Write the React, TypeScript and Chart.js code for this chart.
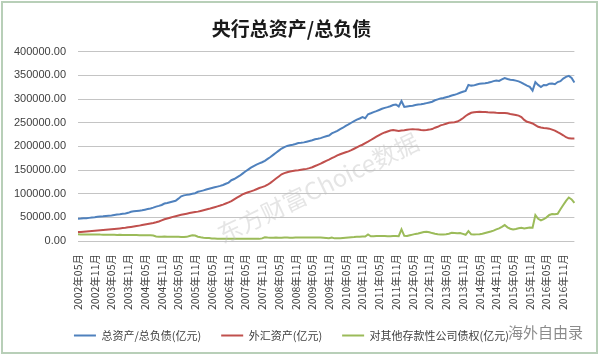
import React, { useEffect, useRef } from "react";
import { Chart, registerables } from "chart.js";

Chart.register(...registerables);

// Monthly, 2002-05 .. 2017-03 (亿元)
const startYear = 2002;
const startMonth = 5;

const totalAssets: number[] = [
  // 2002 (May-Dec)
  47000, 47500, 48200, 48000, 48900, 49500, 50200, 51100,
  // 2003
  51800, 52300, 53000, 53600, 54100, 55000, 55800, 56500, 57400, 58300, 59600, 61900,
  // 2004
  62800, 63500, 64200, 65000, 66200, 67500, 68800, 70500, 72600, 74300, 76200, 79200,
  // 2005
  80500, 82000, 83500, 85000, 89500, 94500, 96500, 97500, 98500, 99800, 101000, 104000,
  // 2006
  105500, 107000, 109000, 110500, 112000, 113500, 115000, 116500, 118500, 121000, 123500, 128500,
  // 2007
  131000, 134500, 138000, 142500, 147000, 151000, 155000, 158500, 161500, 164000, 166500, 169500,
  // 2008
  173500, 177500, 182000, 186500, 191000, 195500, 198500, 201000, 202500, 203500, 205000, 207000,
  // 2009
  207500, 208500, 210000, 211500, 213000, 215000, 216000, 217500, 219500, 221500, 223000, 227500,
  // 2010
  230000, 233000, 236500, 239500, 243500, 246500, 250000, 253500, 256500, 259000, 262000, 259500,
  // 2011
  268000, 270000, 272500, 274500, 277000, 279500, 281500, 283000, 285000, 287500, 288500, 284500,
  // 2012
  296000, 283500, 284500, 285500, 286000, 287500, 288500, 289000, 290000, 291500, 293000, 294500,
  // 2013
  297500, 299500, 301500, 302500, 304000, 305500, 307500, 309000, 311000, 313500, 315500, 317500,
  // 2014
  330000, 328500, 329000, 331000, 332500, 333000, 333500, 334500, 336000, 338000, 339500, 338500,
  // 2015
  341500, 344500, 342500, 341000, 340500, 339000, 337500, 335000, 331500, 328500, 326000, 318000,
  // 2016
  336000, 330000, 325500, 330000, 329500, 332500, 333000, 331500, 336000, 338000, 343500, 347000,
  // 2017 (Jan-Mar)
  349000, 344500, 335000,
];

const fxAssets: number[] = [
  18800, 19200, 19700, 20100, 20500, 21000, 21500, 22100,
  22600, 23100, 23700, 24200, 24800, 25400, 26000, 26600, 27300, 28000, 28900, 29800,
  30600, 31500, 32500, 33600, 34800, 35900, 37000, 38200, 39600, 41200, 43500, 45900,
  47500, 49200, 51000, 52500, 54000, 55300, 56600, 57800, 59000, 60200, 61300, 62100,
  63500, 65000, 66500, 68000, 69800, 71500, 73200, 75000, 77000, 79200, 81500, 84400,
  88000, 91500, 95000, 98500, 101000, 103000, 105000, 107000, 109500, 112000, 114000, 116000,
  119000, 123000, 127500, 132000, 136500, 141000, 143500, 145500, 147000, 148000, 149000, 149600,
  150500, 151500, 152500, 154000, 156000, 158500, 161000, 163500, 166500, 169500, 172000, 175200,
  178000, 181000, 183500, 185500, 187500, 189500, 192000, 195000, 198000, 201000, 203500, 206800,
  210000, 213500, 217000, 220500, 224000, 227000, 229500, 231500, 233500, 234500, 233500, 232400,
  233500, 234000, 235000, 236000, 236500, 236000, 235500, 234500, 234000, 234500, 235500, 236700,
  239500, 241500, 244500, 246000, 248000, 250000, 250500, 251000, 252500, 255500, 259500, 264300,
  268000, 271000, 272000, 272500, 273000, 272800, 272500, 272000, 271800, 271500, 271000, 270700,
  270800, 270500, 270000, 268500, 267500, 266500, 265000, 262000, 256000, 252000, 250500, 248500,
  245000, 241500, 240000, 239000, 238500, 237500, 235500, 233500, 230000, 227000, 223500, 219400,
  217000, 216500, 216700,
];

const claimsOnBanks: number[] = [
  14200, 14000, 13800, 13900, 13700, 13600, 13800, 14000,
  13600, 13400, 13300, 13200, 13100, 13000, 12900, 13000, 12800, 12700, 12600, 12800,
  12600, 12500, 12400, 12300, 12200, 12100, 12000, 11500, 9500, 9200, 9100, 9300,
  9100, 9000, 8900, 8800, 8800, 8700, 8700, 8800, 10500, 12000, 11500, 9000,
  7800, 7000, 6500, 6200, 5500, 5200, 5000, 4900, 4800, 4900, 4800, 4900,
  4800, 4700, 4600, 4600, 4700, 4500, 4600, 4700, 4600, 4500, 5500, 7800,
  7300, 7100, 7000, 7200, 7100, 7000, 7200, 7300, 7100, 7000, 7200, 7500,
  7400, 7300, 7200, 7400, 7500, 7600, 7500, 7300, 6800, 6300, 5800, 7100,
  5600, 5700, 6000, 6500, 7000, 7500, 8000, 8300, 8800, 9200, 9600, 9500,
  14000, 10000, 10300, 10500, 10600, 10500, 10400, 10300, 10200, 10500, 10800, 10200,
  24600, 11000, 10500, 12000, 13500, 15000, 16000, 17500, 19000, 19600, 18500, 16700,
  15500, 14500, 14000, 13800, 14500, 15500, 17500, 17000, 16500, 17000, 15000, 13100,
  21000, 14000, 13500, 14000, 14500, 15400, 17000, 18500, 20000, 22000, 24500, 26700,
  30000, 33700, 29000, 26000, 24600, 25500, 27000, 28000, 26500, 27500, 28500, 28000,
  54700, 47000, 43500, 46000, 50000, 55000, 57000, 56500, 57500, 67000, 76000, 84700,
  92000, 88000, 80600,
];

const seriesNames = ["总资产/总负债(亿元)", "外汇资产(亿元)", "对其他存款性公司债权(亿元)"];
const seriesColors = ["#4F81BD", "#C0504D", "#9BBB59"];
const titleText = "央行总资产/总负债";
const yTicks = [0, 50000, 100000, 150000, 200000, 250000, 300000, 350000, 400000];
const labelEvery = 6;

const monthLabels: string[] = totalAssets.map((_, i) => {
  const m0 = startMonth - 1 + i;
  const y = startYear + Math.floor(m0 / 12);
  const m = (m0 % 12) + 1;
  return `${y}年${m < 10 ? "0" + m : m}月`;
});

const framePlugin = {
  id: "frame",
  beforeDraw(chart: any) {
    const ctx = chart.ctx;
    ctx.save();
    ctx.fillStyle = "#ffffff";
    ctx.fillRect(0, 0, chart.width, chart.height);
    ctx.restore();
  },
  afterDraw(chart: any) {
    const ctx = chart.ctx;
    ctx.save();
    // watermark
    ctx.translate(318, 188);
    ctx.rotate(-0.45);
    ctx.font = "24px 'Noto Sans CJK SC'";
    ctx.fillStyle = "rgba(190,190,190,0.4)";
    ctx.textAlign = "center";
    ctx.textBaseline = "middle";
    ctx.fillText("东方财富Choice数据", 0, 0);
    ctx.restore();
    ctx.save();
    ctx.font = "15px 'Noto Sans CJK SC'";
    ctx.fillStyle = "rgba(110,110,110,0.8)";
    ctx.textAlign = "left";
    ctx.textBaseline = "middle";
    ctx.fillText("海外自由录", 508, 332);
    ctx.restore();
    ctx.save();
    ctx.strokeStyle = "#b8cfb8";
    ctx.lineWidth = 2;
    ctx.strokeRect(2, 2, chart.width - 5, chart.height - 4);
    ctx.restore();
  },
};

export default function App() {
  const ref = useRef<HTMLCanvasElement | null>(null);
  useEffect(() => {
    document.body.style.margin = "0";
    if (!ref.current) return;
    const datasets = [totalAssets, fxAssets, claimsOnBanks].map((d, k) => ({
      label: seriesNames[k],
      data: d,
      borderColor: seriesColors[k],
      backgroundColor: seriesColors[k],
      borderWidth: 2,
      pointRadius: 0,
      tension: 0,
      fill: false,
    }));
    const chart = new Chart(ref.current, {
      type: "line",
      data: { labels: monthLabels, datasets },
      plugins: [framePlugin],
      options: {
        responsive: false,
        animation: false,
        layout: { padding: { left: 0, right: 17, top: 0, bottom: 4 } },
        plugins: {
          title: {
            display: true,
            text: titleText,
            color: "#1a1a1a",
            font: { family: "'Noto Sans CJK SC'", size: 19, weight: "bold" },
            padding: { top: 17, bottom: 12 },
          },
          legend: {
            display: true,
            position: "bottom",
            labels: {
              boxWidth: 22,
              boxHeight: 2,
              padding: 20,
              color: "#404040",
              font: { family: "'Noto Sans CJK SC'", size: 11 },
              generateLabels: (c: any) =>
                Chart.defaults.plugins.legend.labels
                  .generateLabels(c)
                  .map((l: any) => ({ ...l, lineWidth: 0, fillStyle: l.strokeStyle })),
            },
          },
          tooltip: { enabled: false },
        },
        scales: {
          x: {
            type: "category",
            offset: false,
            grid: { display: false, drawTicks: false },
            border: { display: false },
            afterFit: (s: any) => {
              s.height = 69;
            },
            ticks: {
              autoSkip: false,
              maxRotation: 90,
              minRotation: 90,
              padding: 13,
              color: "#404040",
              font: { family: "'Noto Sans CJK SC'", size: 10.5 },
              callback: (_v: any, i: number) => (i % labelEvery === 0 ? monthLabels[i] : ""),
            },
          },
          y: {
            min: 0,
            max: 400000,
            afterFit: (s: any) => {
              s.width = 78;
            },
            afterBuildTicks: (s: any) => {
              s.ticks = yTicks.map((v) => ({ value: v }));
            },
            grid: { color: "#c4c4c4", lineWidth: 1, drawTicks: false },
            border: { display: false },
            ticks: {
              padding: 12,
              color: "#404040",
              font: { family: "'Liberation Sans'", size: 11 },
              callback: (v: any) => Number(v).toFixed(2),
            },
          },
        },
      },
    } as any);
    return () => chart.destroy();
  }, []);
  return (
    <div style={{ width: 600, height: 355 }}>
      <canvas ref={ref} width={600} height={355} style={{ width: 600, height: 355, display: "block" }} />
    </div>
  );
}
